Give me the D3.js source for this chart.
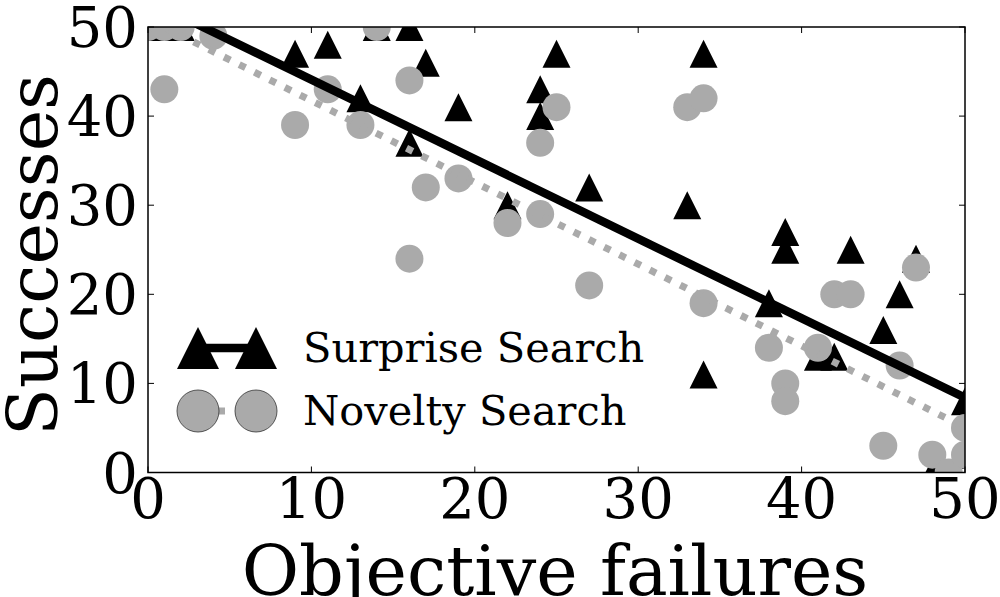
<!DOCTYPE html>
<html>
<head>
<meta charset="utf-8">
<script src="https://cdn.jsdelivr.net/npm/d3@7"></script>
<style>
  html, body { margin: 0; padding: 0; background: #fff; }
  svg { display: block; }
  text { font-family: "DejaVu Serif", serif; fill: #000; }
</style>
</head>
<body>
<svg id="chart" width="1000" height="597"></svg>
<script>
// ---- data ----
const surpriseX = [0, 1, 2, 9, 11, 13, 14, 16, 16, 17, 19, 22, 24, 24, 25, 27, 33, 34, 34, 38, 39, 39, 41, 42, 43, 45, 46, 47, 48, 50, 50];
const surpriseY = [50, 50, 50, 47, 48, 42, 50, 50, 37, 46, 41, 30, 43, 40, 47, 32, 30, 47, 11, 19, 27, 25, 13, 13, 25, 16, 20, 24, 0, 2, 8];
const noveltyX = [0, 1, 2, 1, 4, 9, 11, 13, 14, 16, 16, 17, 19, 22, 24, 24, 25, 27, 33, 34, 34, 38, 39, 39, 41, 42, 43, 45, 46, 47, 48, 49, 50, 50];
const noveltyY = [50, 50, 50, 43, 49, 39, 43, 39, 50, 44, 24, 32, 33, 28, 37, 29, 41, 21, 41, 42, 19, 14, 10, 8, 14, 20, 20, 3, 12, 23, 2, 0, 5, 2];
const surpriseFitX = [0, 50];
const surpriseFitY = [53.0, 8.4];
const noveltyFitX = [0, 50];
const noveltyFitY = [50.9, 5.05];
const xTicks = [0, 10, 20, 30, 40, 50];
const yTicks = [0, 10, 20, 30, 40, 50];
const seriesNames = ["Surprise Search", "Novelty Search"];

// ---- layout ----
const svg = d3.select("#chart");
const L = 148, T = 27, R = 965, B = 472.5;
const x = d3.scaleLinear().domain([0, 50]).range([L, R]);
const y = d3.scaleLinear().domain([0, 50]).range([B, T]);
const gray = "#aaaaaa";

svg.append("defs").append("clipPath").attr("id", "plotclip")
  .append("rect").attr("x", L).attr("y", T).attr("width", R - L).attr("height", B - T);

const plot = svg.append("g").attr("clip-path", "url(#plotclip)");

const triSym = d3.symbol().type({
  draw(ctx, size) {
    const h = Math.sqrt(size) / 2;
    ctx.moveTo(0, -h); ctx.lineTo(h, h); ctx.lineTo(-h, h); ctx.closePath();
  }
});

const sData = surpriseX.map((v, i) => [v, surpriseY[i]]);
const nData = noveltyX.map((v, i) => [v, noveltyY[i]]);

plot.selectAll(".tri").data(sData).enter().append("path")
  .attr("class", "tri")
  .attr("d", triSym.size(28 * 28))
  .attr("transform", d => `translate(${x(d[0])},${y(d[1])})`)
  .attr("fill", "#000");

plot.selectAll(".circ").data(nData).enter().append("circle")
  .attr("class", "circ")
  .attr("cx", d => x(d[0])).attr("cy", d => y(d[1]))
  .attr("r", 14).attr("fill", gray);

const line = d3.line().x(d => x(d[0])).y(d => y(d[1]));
plot.append("path")
  .attr("d", line(surpriseFitX.map((v, i) => [v, surpriseFitY[i]])))
  .attr("stroke", "#000").attr("stroke-width", 8.5).attr("fill", "none");
plot.append("path")
  .attr("d", line(noveltyFitX.map((v, i) => [v, noveltyFitY[i]])))
  .attr("stroke", gray).attr("stroke-width", 7).attr("fill", "none")
  .attr("stroke-dasharray", "7,10");

// ---- frame & ticks ----
svg.append("rect").attr("x", L).attr("y", T).attr("width", R - L).attr("height", B - T)
  .attr("fill", "none").attr("stroke", "#000").attr("stroke-width", 1.5);

const tl = 6;
xTicks.forEach(t => {
  svg.append("line").attr("x1", x(t)).attr("x2", x(t)).attr("y1", B).attr("y2", B - tl).attr("stroke", "#000").attr("stroke-width", 1);
  svg.append("line").attr("x1", x(t)).attr("x2", x(t)).attr("y1", T).attr("y2", T + tl).attr("stroke", "#000").attr("stroke-width", 1);
  svg.append("text").attr("x", x(t)).attr("y", 518).attr("text-anchor", "middle")
    .attr("font-size", 56).text(t);
});
yTicks.forEach(t => {
  svg.append("line").attr("x1", L).attr("x2", L + tl).attr("y1", y(t)).attr("y2", y(t)).attr("stroke", "#000").attr("stroke-width", 1);
  svg.append("line").attr("x1", R).attr("x2", R - tl).attr("y1", y(t)).attr("y2", y(t)).attr("stroke", "#000").attr("stroke-width", 1);
  svg.append("text").attr("x", 138).attr("y", y(t) + 20).attr("text-anchor", "end")
    .attr("font-size", 56).text(t);
});

// axis titles
svg.append("text").attr("x", 555).attr("y", 595).attr("text-anchor", "middle")
  .attr("font-size", 70).text("Objective failures");
svg.append("text").attr("transform", `translate(57,255) rotate(-90)`)
  .attr("text-anchor", "middle").attr("font-size", 70).text("Successes");

// ---- legend ----
const leg = svg.append("g");
const lx1 = 198, lx2 = 256, ly = [348, 411];
leg.append("line").attr("x1", lx1).attr("x2", lx2).attr("y1", ly[0]).attr("y2", ly[0])
  .attr("stroke", "#000").attr("stroke-width", 8.5);
[lx1, lx2].forEach(px => {
  leg.append("path").attr("d", triSym.size(42 * 42))
    .attr("transform", `translate(${px},${ly[0]})`).attr("fill", "#000");
});
leg.append("line").attr("x1", lx1).attr("x2", lx2).attr("y1", ly[1]).attr("y2", ly[1])
  .attr("stroke", gray).attr("stroke-width", 7).attr("stroke-dasharray", "7,10")
  .attr("stroke-dashoffset", -3);
[lx1, lx2].forEach(px => {
  leg.append("circle").attr("cx", px).attr("cy", ly[1]).attr("r", 21)
    .attr("fill", gray).attr("stroke", "#333").attr("stroke-width", 0.8);
});
seriesNames.forEach((n, i) => {
  leg.append("text").attr("x", 303).attr("y", ly[i] + 14).attr("font-size", 41.5).text(n);
});
</script>
</body>
</html>
